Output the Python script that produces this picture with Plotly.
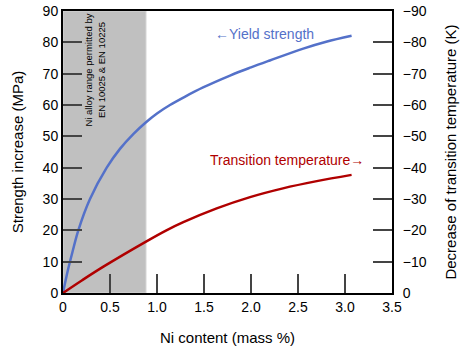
import plotly.graph_objects as go

# Yield strength (MPa) vs Ni content
ys_x = [0, 0.05, 0.1, 0.163, 0.287, 0.465, 0.606, 0.75, 0.883, 1.0, 1.138, 1.3, 1.49, 1.777, 2.0, 2.2, 2.556, 2.8, 3.07]
ys_y = [0, 7.0, 13.0, 20.0, 30.0, 40.0, 46.0, 50.8, 54.5, 57.3, 60.0, 62.7, 65.6, 69.4, 72.0, 74.2, 78.0, 80.2, 82.1]

# Transition temperature decrease (K) vs Ni content
tt_x = [0, 0.2, 0.43, 0.883, 1.1, 1.28, 1.635, 1.99, 2.34, 2.70, 3.07]
tt_y = [0, -4.0, -8.4, -16.4, -20.0, -22.6, -27.0, -30.6, -33.4, -35.7, -37.7]

x_ticks = [0, 0.5, 1.0, 1.5, 2.0, 2.5, 3.0, 3.5]
x_ticktext = ["0", "0.5", "1.0", "1.5", "2.0", "2.5", "3.0", "3.5"]
y_ticks = [0, 10, 20, 30, 40, 50, 60, 70, 80, 90]
y2_ticks = [0, -10, -20, -30, -40, -50, -60, -70, -80, -90]

ni_range = [0, 0.883]

FONT = "Liberation Sans, Arial, sans-serif"
BLUE = "#5471c9"
RED = "#b00000"

fig = go.Figure()
fig.add_trace(go.Scatter(x=ys_x, y=ys_y, mode="lines", line=dict(color=BLUE, width=2.5, shape="spline", smoothing=1.0),
                         showlegend=False, hoverinfo="skip"))
fig.add_trace(go.Scatter(x=tt_x, y=tt_y, mode="lines", yaxis="y2", line=dict(color=RED, width=2.5, shape="spline", smoothing=1.0),
                         showlegend=False, hoverinfo="skip"))

fig.add_shape(type="rect", xref="x", yref="paper", x0=ni_range[0], x1=ni_range[1], y0=0, y1=1,
              fillcolor="#c0c0c0", line=dict(color="#d6d6d6", width=1), layer="below")

tick_common = dict(ticks="inside", ticklen=19, tickwidth=1.5, tickcolor="#444444", automargin=False,
                   showgrid=False, zeroline=False, showline=True, linecolor="black", linewidth=2,
                   tickfont=dict(family=FONT, size=14, color="black"))

fig.update_layout(
    width=470, height=358,
    margin=dict(l=63, r=78, t=11, b=65),
    paper_bgcolor="white", plot_bgcolor="white",
    font=dict(family=FONT, color="black"),
    xaxis=dict(range=[0, 3.5], tickvals=x_ticks, ticktext=x_ticktext,
               mirror=True, title=dict(text="Ni content (mass %)", font=dict(family=FONT, size=15), standoff=19),
               **tick_common),
    yaxis=dict(range=[0, 90], tickvals=y_ticks,
               title=dict(text="Strength increase (MPa)", font=dict(family=FONT, size=15), standoff=15),
               **tick_common),
    yaxis2=dict(range=[0, -90], tickvals=y2_ticks, overlaying="y", side="right", ticklabelstandoff=6,
                title=dict(text="Decrease of transition temperature (K)", font=dict(family=FONT, size=15), standoff=20),
                **tick_common),
)

fig.add_annotation(x=0.34, y=71.3, xref="x", yref="y", text="Ni alloy range permitted by<br>EN 10025 & EN 10225",
                   showarrow=False, textangle=-90, font=dict(family=FONT, size=9.5, color="black"))
fig.add_annotation(x=2.14, y=82.7, xref="x", yref="y", text="←Yield strength", showarrow=False,
                   font=dict(family=FONT, size=14, color=BLUE))
fig.add_annotation(x=3.22, y=42.4, xref="x", yref="y", text="Transition temperature→", showarrow=False, xanchor="right",
                   font=dict(family=FONT, size=14, color=RED))

fig.write_html("out.html", config={"displayModeBar": False}, post_script="document.body.style.margin='0';")
